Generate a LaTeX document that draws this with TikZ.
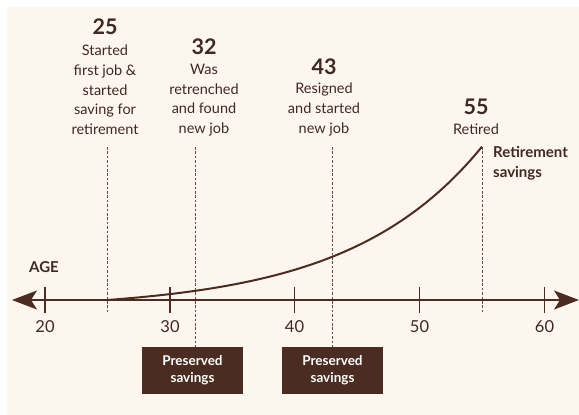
\documentclass[tikz,border=0pt]{standalone}
\usepackage{fontspec}
\setmainfont{Lato}
\usetikzlibrary{arrows.meta}
\definecolor{bg}{HTML}{FDF6EF}
\definecolor{brown}{HTML}{4A2C22}
\definecolor{txt}{HTML}{3E2A22}
\definecolor{dash}{HTML}{5E4E46}
\tikzset{
  axisline/.style={draw=brown, line width=1.6pt},
  tickline/.style={draw=brown, line width=1.6pt},
  guide/.style={draw=dash, line width=0.8pt, dash pattern=on 2.6pt off 1.8pt},
  num/.style={text=txt, font=\fontsize{21.5}{24}\selectfont\bfseries, inner sep=0pt},
  desc/.style={text=txt, font=\fontsize{14.5}{19.7}\selectfont, align=center, inner sep=0pt},
  ticklab/.style={text=txt, font=\fontsize{16.5}{18}\selectfont, inner sep=0pt},
  boldlab/.style={text=txt, font=\fontsize{15}{19.7}\selectfont\bfseries, inner sep=0pt},
  savebox/.style={fill=brown, text=white, minimum width=101pt, minimum height=47pt, inner sep=0pt,
     align=center, font=\fontsize{13.5}{17}\selectfont\bfseries},
}
\begin{document}
\begin{tikzpicture}[x=1pt,y=-1pt]
\useasboundingbox (0,0) rectangle (579,415);
\fill[white] (0,0) rectangle (579,415);
\fill[bg] (7,7) rectangle (579,415);
% axis
\coordinate (L) at (12,300);
\coordinate (R) at (579,300);
\draw[axisline, {Stealth[length=25pt,width=19pt,inset=6pt]}-{Stealth[length=25pt,width=19pt,inset=6pt]}] (L) -- (R);
\foreach \a/\xx in {20/45,30/170,40/294.5,50/419.5,60/544.5}{
  \draw[tickline] (\xx,287) -- (\xx,313);
  \node[ticklab] (t\a) at (\xx,327) {\a};
}
\node[boldlab] (age) at (44,267) {AGE};
% guides
\draw[guide] (107,147) -- (107,312);
\draw[guide] (195,147) -- (195,347);
\draw[guide] (332,147) -- (332,347);
\draw[guide] (482,147) -- (482,312);
% curve
\draw[draw=brown, line width=2pt] plot[domain=107:482, samples=80, smooth] (\x, {300 - 9.77*(exp(0.007506*(\x-107))-1)});
% labels
\node[num] (n25) at (105,27) {25};
\node[desc] (d25) at (105,90) {Started\\first job \&\\started\\saving for\\retirement};
\node[num] (n32) at (204,47) {32};
\node[desc] (d32) at (204,100) {Was\\retrenched\\and found\\new job};
\node[num] (n43) at (324,67) {43};
\node[desc] (d43) at (324,109.5) {Resigned\\and started\\new job};
\node[num] (n55) at (476,107) {55};
\node[desc] (d55) at (476,129) {Retired};
\node[boldlab, align=left, anchor=west] (rs) at (493,163) {Retirement\\savings};
% boxes
\node[savebox] (b1) at (192.5,370.5) {Preserved\\savings};
\node[savebox] (b2) at (332.5,370.5) {Preserved\\savings};
\end{tikzpicture}
\end{document}
